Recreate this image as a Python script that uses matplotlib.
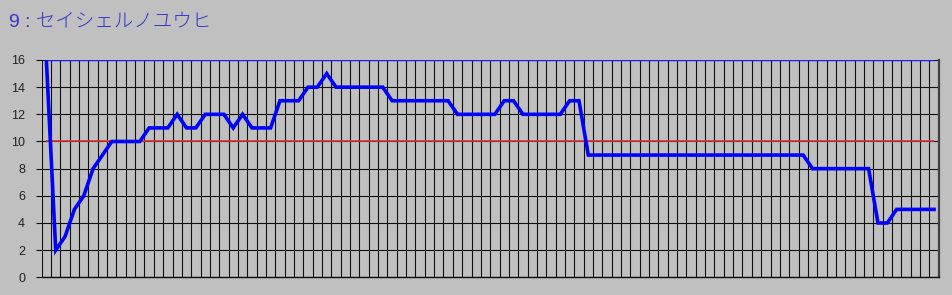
import matplotlib
matplotlib.use('Agg')
import matplotlib.pyplot as plt

# one reading per day, 96 days
values = [16, 2, 3, 5, 6, 8, 9,
          10, 10, 10, 10,
          11, 11, 11, 12, 11, 11, 12, 12, 12, 11, 12, 11, 11, 11,
          13, 13, 13, 14, 14, 15,
          14, 14, 14, 14, 14, 14,
          13, 13, 13, 13, 13, 13, 13,
          12, 12, 12, 12, 12, 13, 13,
          12, 12, 12, 12, 12, 13, 13,
          9, 9, 9, 9, 9, 9, 9, 9, 9, 9, 9, 9,
          9, 9, 9, 9, 9, 9, 9, 9, 9, 9, 9, 9,
          8, 8, 8, 8, 8, 8, 8,
          4, 4, 5, 5, 5, 5, 5]
threshold = 10
upper = 16
y_ticks = [0, 2, 4, 6, 8, 10, 12, 14, 16]
title = "9 : セイシェルノユウヒ"

bg = '#C0C0C0'
days = list(range(len(values)))

fig = plt.figure(figsize=(9.53, 2.95), dpi=100, facecolor=bg)
ax = fig.add_axes([41.7 / 953, 17.7 / 295, 897 / 953, 217.3 / 295])
ax.set_facecolor(bg)

ax.set_xlim(days[0] - 0.5, days[-1] + 0.5)
ax.set_ylim(y_ticks[0], y_ticks[-1])

# grid: one column per day, one row per tick
for k in range(len(values) + 1):
    ax.axvline(k - 0.5, color='#101010', linewidth=0.8, zorder=1)
for t in y_ticks:
    ax.axhline(t, color='#101010', linewidth=0.8, zorder=1)

ax.hlines(upper, days[0], days[-1], color='#2020FF', linewidth=1.0, zorder=2)
ax.hlines(threshold, days[0], days[-1], color='#E03030', linewidth=1.2, zorder=2)
ax.plot(days, values, color='#0000FF', linewidth=2.6, zorder=3,
        solid_joinstyle='miter')

for side in ['top', 'left']:
    ax.spines[side].set_visible(False)
ax.spines['bottom'].set_color('#101010')
ax.spines['bottom'].set_linewidth(1.0)
ax.spines['right'].set_color('#404040')
ax.spines['right'].set_linewidth(1.6)

ax.set_xticks([])
ax.set_yticks(y_ticks)
ax.set_yticklabels([str(t) for t in y_ticks], fontsize=9,
                   family=['Liberation Sans', 'DejaVu Sans'], color='#202020')
ax.tick_params(axis='y', length=4, width=0.8, color='#101010', pad=8)

fig.text(9.5 / 953, 1 - 26 / 295, title, fontsize=14, color='#3535CC',
         family=['Liberation Sans', 'Noto Sans CJK JP'], fontweight='light',
         va='baseline', ha='left')

fig.savefig('out.png', dpi=100, facecolor=bg)
